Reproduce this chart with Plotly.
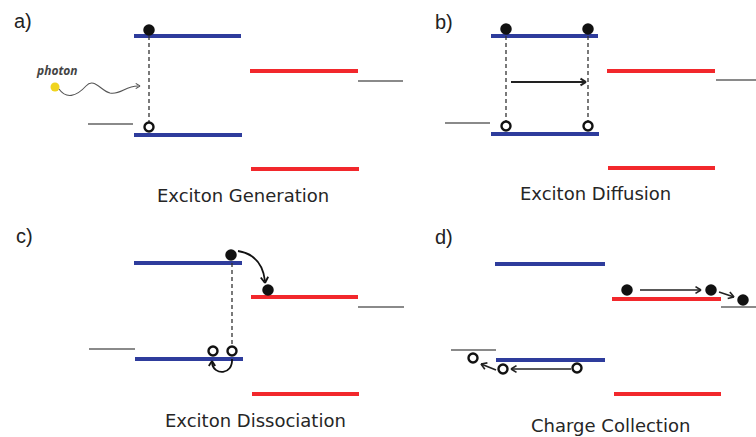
import plotly.graph_objects as go
import math

# ---------------- data (diagram coordinates, pixel-like units) ----------------
panel_labels = ["a)", "b)", "c)", "d)"]
label_x = [23, 444, 24, 444]
label_y = [21, 22, 236, 237]

titles = ["Exciton Generation", "Exciton Diffusion", "Exciton Dissociation", "Charge Collection"]
title_x = [243, 595, 255, 610]
title_y = [195, 193, 420, 425]

# donor levels (blue): x0, x1, y
donor_x0 = [134, 134, 491, 491, 134, 135, 495, 496]
donor_x1 = [241, 242, 598, 599, 242, 243, 605, 605]
donor_y = [36, 135, 36, 134, 263, 359, 264, 360]

# acceptor levels (red)
acc_x0 = [250, 251, 607, 608, 251, 252, 612, 614]
acc_x1 = [358, 359, 715, 715, 358, 359, 721, 721]
acc_y = [71, 169, 71, 168, 297, 394, 299, 394]

# electrode levels (gray)
el_x0 = [88, 358, 445, 716, 89, 358, 451, 721]
el_x1 = [133, 403, 490, 756, 135, 404, 496, 756]
el_y = [124, 81, 123, 80, 349, 307, 350, 307]

# electrons (filled) and holes (open)
elec_x = [149, 506, 588, 231, 268, 627, 711, 743]
elec_y = [30, 29, 29, 255, 290, 290, 290, 300]
hole_x = [149, 506, 588, 213, 232, 473, 503, 577]
hole_y = [127, 126, 126, 351, 351, 358, 369, 368]

# exciton dashed links
dash_x = [149, 506, 588, 232]
dash_y0 = [36, 36, 36, 263]
dash_y1 = [122, 121, 121, 347]

# straight arrows: start -> end
arr_x0 = [511, 640, 719, 571, 496]
arr_y0 = [82, 290, 292, 369, 370]
arr_x1 = [586, 701, 734, 511, 481]
arr_y1 = [82, 290, 297, 369, 364]
arr_w = [2.0, 1.6, 1.6, 1.6, 1.6]

photon_x, photon_y = [55], [87]

BLUE = "#2e3c9c"
RED = "#f2282c"
GRAY = "#8a8a8a"
INK = "#111111"


def segs(x0, x1, y):
    xs, ys = [], []
    for a, b, c in zip(x0, x1, y):
        xs += [a, b, None]
        ys += [c, c, None]
    return xs, ys


def head(tx, ty, fx, fy, size=6.5, ang=32):
    d = math.atan2(ty - fy, tx - fx)
    xs, ys = [], []
    for s in (1, -1):
        a = d + math.pi - s * math.radians(ang)
        xs += [tx + size * math.cos(a), tx, None]
        ys += [ty + size * math.sin(a), ty, None]
    return xs, ys


fig = go.Figure()

for (x0, x1, y, col, w) in [(el_x0, el_x1, el_y, GRAY, 2),
                            (donor_x0, donor_x1, donor_y, BLUE, 4),
                            (acc_x0, acc_x1, acc_y, RED, 4)]:
    xs, ys = segs(x0, x1, y)
    fig.add_trace(go.Scatter(x=xs, y=ys, mode="lines",
                             line=dict(color=col, width=w), hoverinfo="skip"))

# dashed exciton links
xs, ys = [], []
for x, a, b in zip(dash_x, dash_y0, dash_y1):
    xs += [x, x, None]
    ys += [a, b, None]
fig.add_trace(go.Scatter(x=xs, y=ys, mode="lines",
                         line=dict(color="#333", width=1.3, dash="4px,3px"), hoverinfo="skip"))

# straight arrows
for x0, y0, x1, y1, w in zip(arr_x0, arr_y0, arr_x1, arr_y1, arr_w):
    hx, hy = head(x1, y1, x0, y0)
    fig.add_trace(go.Scatter(x=[x0, x1, None] + hx, y=[y0, y1, None] + hy, mode="lines",
                             line=dict(color="#222", width=w), hoverinfo="skip"))

# curved arrows and photon wave (paths)
shapes = [
    dict(type="path", path="M 59,89 C 66,99 76,97 86,86 C 94,77 101,91 110,93 C 121,95 125,86 138,86",
         line=dict(color="#555", width=1.1)),
    dict(type="path", path="M 238,251 Q 262,255 265,281", line=dict(color="#111", width=1.8)),
    dict(type="path", path="M 232,359 C 233,375 214,376 212,363", line=dict(color="#111", width=1.8)),
]
for s in shapes:
    s.update(xref="x", yref="y", layer="above")
fig.update_layout(shapes=shapes)

# heads for curved arrows / photon
for (tx, ty, fx, fy, col, w, sz) in [(140, 86, 132, 86, "#555", 1.1, 5),
                                     (265, 283, 264, 272, "#111", 1.8, 7),
                                     (212, 361, 212, 370, "#111", 1.8, 6)]:
    hx, hy = head(tx, ty, fx, fy, size=sz)
    fig.add_trace(go.Scatter(x=hx, y=hy, mode="lines",
                             line=dict(color=col, width=w), hoverinfo="skip"))

# photon
fig.add_trace(go.Scatter(x=photon_x, y=photon_y, mode="markers",
                         marker=dict(color="#f0d41e", size=9), hoverinfo="skip"))

# charges
fig.add_trace(go.Scatter(x=elec_x, y=elec_y, mode="markers",
                         marker=dict(color=INK, size=11.5), hoverinfo="skip"))
fig.add_trace(go.Scatter(x=hole_x, y=hole_y, mode="markers",
                         marker=dict(color="white", size=9, line=dict(color=INK, width=2.4)),
                         hoverinfo="skip"))

ann = []
for t, x, y in zip(panel_labels, label_x, label_y):
    ann.append(dict(x=x, y=y, text=t, showarrow=False, xref="x", yref="y",
                    font=dict(family="Liberation Sans, Arial", size=20, color="#222")))
for t, x, y in zip(titles, title_x, title_y):
    ann.append(dict(x=x, y=y, text=t, showarrow=False, xref="x", yref="y",
                    font=dict(family="DejaVu Sans", size=18, color="#262626")))
ann.append(dict(x=57, y=70, text="<i><b>photon</b></i>", showarrow=False, xref="x", yref="y",
                font=dict(family="Open Sans", size=12, color="#444")))

fig.update_layout(
    annotations=ann,
    width=756, height=437,
    margin=dict(l=0, r=0, t=0, b=0),
    paper_bgcolor="white", plot_bgcolor="white",
    showlegend=False,
    xaxis=dict(range=[0, 756], visible=False, fixedrange=True),
    yaxis=dict(range=[437, 0], visible=False, fixedrange=True),
)

fig.write_html("out.html")
